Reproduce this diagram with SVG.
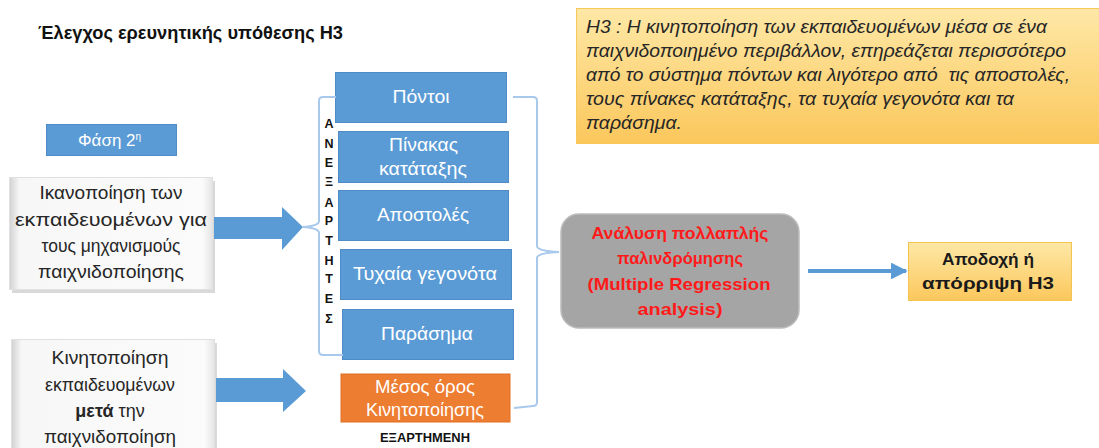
<svg xmlns="http://www.w3.org/2000/svg" width="1099" height="448" viewBox="0 0 1099 448">
<defs>
<linearGradient id="yel" x1="0" y1="0" x2="0" y2="1">
<stop offset="0" stop-color="#fee8a6"/>
<stop offset="1" stop-color="#fbc75c"/>
</linearGradient>
<linearGradient id="bevel" x1="0" y1="0" x2="1" y2="0">
<stop offset="0" stop-color="#d2d2d2"/>
<stop offset="0.05" stop-color="#f7f7f7"/>
<stop offset="0.95" stop-color="#fbfbfb"/>
<stop offset="1" stop-color="#e4e4e4"/>
</linearGradient>
<marker id="ah" viewBox="0 0 10 10" refX="9" refY="5" markerWidth="4.2" markerHeight="4.2" orient="auto" markerUnits="strokeWidth">
<path d="M0,0 L10,5 L0,10 Z" fill="#5b9bd5"/>
</marker>
<style>
.t{font-family:"Liberation Sans",Arial,sans-serif}
.blue{fill:#5b9bd5;stroke:#4f8cc7;stroke-width:1}
.wt{fill:#ffffff;font-size:18px;text-anchor:middle}
.dk{fill:#262626;font-size:18px;text-anchor:middle}
.brace{fill:none;stroke:#a8c9ec;stroke-width:2}
.big{fill:#5b9bd5}
.vl{font-size:12.5px;font-weight:bold;fill:#111;text-anchor:middle}
</style>
</defs>
<rect width="1099" height="448" fill="#ffffff"/>

<g id="title">
<text class="t" x="38" y="39" font-size="18" font-weight="bold" fill="#111" textLength="305" lengthAdjust="spacingAndGlyphs">Έλεγχος ερευνητικής υπόθεσης Η3</text>
</g>

<g id="hypothesis">
<rect x="576.5" y="8.5" width="530" height="135" fill="url(#yel)" stroke="#f7c95a" stroke-width="1"/>
<g class="t" font-size="18" font-style="italic" fill="#262626">
<text x="586" y="33" textLength="461" lengthAdjust="spacingAndGlyphs">Η3 : Η κινητοποίηση των εκπαιδευομένων μέσα σε ένα</text>
<text x="586" y="57" textLength="480" lengthAdjust="spacingAndGlyphs">παιχνιδοποιημένο περιβάλλον, επηρεάζεται περισσότερο</text>
<text x="586" y="81" textLength="484" lengthAdjust="spacingAndGlyphs" xml:space="preserve">από το σύστημα πόντων και λιγότερο από  τις αποστολές,</text>
<text x="586" y="105" textLength="428" lengthAdjust="spacingAndGlyphs">τους πίνακες κατάταξης, τα τυχαία γεγονότα και τα</text>
<text x="586" y="129" textLength="96" lengthAdjust="spacingAndGlyphs">παράσημα.</text>
</g>
</g>

<g id="phase">
<rect class="blue" x="46.5" y="124.5" width="130" height="31"/>
<text class="t" x="78" y="146" font-size="17" fill="#ffffff">Φάση 2<tspan font-size="10" dy="-6">η</tspan></text>
</g>

<g id="satisfaction">
<rect x="12" y="181" width="203" height="112" fill="#d9d9d9"/>
<rect x="9.5" y="177.5" width="203" height="112" fill="url(#bevel)" stroke="#e0e0e0" stroke-width="1"/>
<g class="t dk">
<text x="111" y="199" textLength="143" lengthAdjust="spacingAndGlyphs">Ικανοποίηση των</text>
<text x="111" y="226" textLength="192" lengthAdjust="spacingAndGlyphs">εκπαιδευομένων για</text>
<text x="111" y="252" textLength="139" lengthAdjust="spacingAndGlyphs">τους μηχανισμούς</text>
<text x="111" y="278" textLength="146" lengthAdjust="spacingAndGlyphs">παιχνιδοποίησης</text>
</g>
</g>

<g id="motivation">
<rect x="14" y="343" width="203" height="110" fill="#d9d9d9"/>
<rect x="11.5" y="339.5" width="203" height="112" fill="url(#bevel)" stroke="#e0e0e0" stroke-width="1"/>
<g class="t dk">
<text x="110" y="364" textLength="117" lengthAdjust="spacingAndGlyphs">Κινητοποίηση</text>
<text x="110" y="391" textLength="130" lengthAdjust="spacingAndGlyphs">εκπαιδευομένων</text>
<text x="110" y="417"><tspan font-weight="bold">μετά</tspan> την</text>
<text x="110" y="443" textLength="132" lengthAdjust="spacingAndGlyphs">παιχνιδοποίηση</text>
</g>
</g>

<g id="vertical-label" class="t vl">
<text x="329" y="128">Α</text>
<text x="329" y="148">Ν</text>
<text x="329" y="167">Ε</text>
<text x="329" y="186">Ξ</text>
<text x="329" y="207">Α</text>
<text x="329" y="225">Ρ</text>
<text x="329" y="245">Τ</text>
<text x="329" y="265">Η</text>
<text x="329" y="283">Τ</text>
<text x="329" y="303">Ε</text>
<text x="329" y="323">Σ</text>
</g>

<g id="pontoi">
<rect class="blue" x="335.5" y="72.5" width="171" height="50"/>
<text class="t wt" x="421" y="103" textLength="57" lengthAdjust="spacingAndGlyphs">Πόντοι</text>
</g>
<g id="pinakas">
<rect class="blue" x="338.5" y="131.5" width="170" height="51"/>
<text class="t wt" x="423.5" y="151" textLength="69" lengthAdjust="spacingAndGlyphs">Πίνακας</text>
<text class="t wt" x="423" y="175" textLength="88" lengthAdjust="spacingAndGlyphs">κατάταξης</text>
</g>
<g id="apostoles">
<rect class="blue" x="338.5" y="190.5" width="170" height="50"/>
<text class="t wt" x="423" y="221" textLength="92" lengthAdjust="spacingAndGlyphs">Αποστολές</text>
</g>
<g id="tyxaia">
<rect class="blue" x="340.5" y="249.5" width="171" height="50"/>
<text class="t wt" x="425" y="280" textLength="144" lengthAdjust="spacingAndGlyphs">Τυχαία γεγονότα</text>
</g>
<g id="parasima">
<rect class="blue" x="342.5" y="309.5" width="171" height="50"/>
<text class="t wt" x="427" y="340" textLength="92" lengthAdjust="spacingAndGlyphs">Παράσημα</text>
</g>

<g id="mean">
<rect x="341" y="374" width="169" height="48" fill="#ed7d31" stroke="#e07024" stroke-width="1"/>
<text class="t wt" x="425" y="393" textLength="100" lengthAdjust="spacingAndGlyphs">Μέσος όρος</text>
<text class="t wt" x="425" y="416" textLength="118" lengthAdjust="spacingAndGlyphs">Κινητοποίησης</text>
<text class="t" x="425" y="442" font-size="12.5" font-weight="bold" fill="#111" text-anchor="middle" textLength="90" lengthAdjust="spacingAndGlyphs">ΕΞΑΡΤΗΜΕΝΗ</text>
</g>

<g id="regression">
<rect x="561" y="214" width="238" height="114" rx="18" ry="18" fill="#a5a5a5" stroke="#bcbcbc" stroke-width="1.5"/>
<g class="t" font-size="17" font-weight="bold" fill="#ff1a1a" text-anchor="middle">
<text x="680" y="239" textLength="177" lengthAdjust="spacingAndGlyphs">Ανάλυση πολλαπλής</text>
<text x="680" y="264" textLength="126" lengthAdjust="spacingAndGlyphs">παλινδρόμησης</text>
<text x="679" y="290" textLength="183" lengthAdjust="spacingAndGlyphs">(Multiple Regression</text>
<text x="680" y="315" textLength="85" lengthAdjust="spacingAndGlyphs">analysis)</text>
</g>
</g>

<g id="decision">
<rect x="908.5" y="242.5" width="163" height="58" fill="url(#yel)" stroke="#f5c350" stroke-width="1"/>
<g class="t" font-size="17" font-weight="bold" fill="#1a1a1a" text-anchor="middle">
<text x="988" y="265" textLength="92" lengthAdjust="spacingAndGlyphs">Αποδοχή ή</text>
<text x="988" y="289" textLength="132" lengthAdjust="spacingAndGlyphs">απόρριψη Η3</text>
</g>
</g>

<g id="connectors">
<path class="big" d="M214,217 H282 V207 L303,227 L282,250 V239 H214 Z"/>
<path class="big" d="M216,378 H283 V369 L306,391 L283,412 V402 H216 Z"/>
<path class="brace" d="M336,97 H323 Q319,97 319,101 V221 Q319,226 303,227 Q319,228 319,233 V351 Q319,355 323,355 H343"/>
<path class="brace" d="M513,97 H533 Q537,97 537,101 V246 Q537,251 559,252 Q537,253 537,258 V402 Q537,406 533,406 L514,408"/>
<line x1="808" y1="271" x2="906" y2="271" stroke="#5b9bd5" stroke-width="4" marker-end="url(#ah)"/>
</g>
</svg>
